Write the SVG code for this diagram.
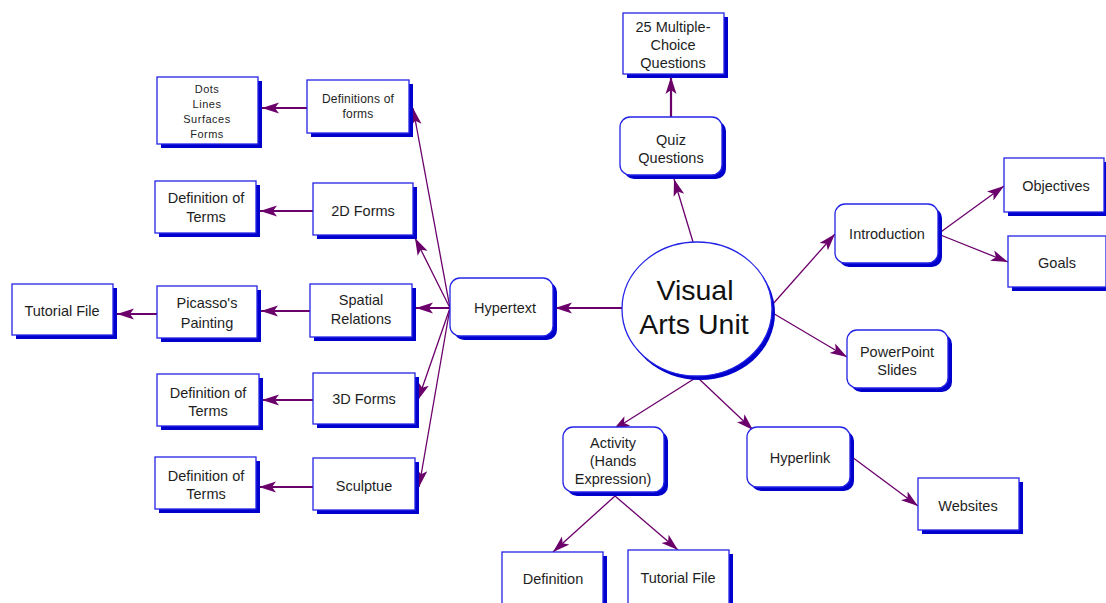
<svg xmlns="http://www.w3.org/2000/svg" width="1106" height="603" viewBox="0 0 1106 603">
<style>
.sh{fill:#0000cc;stroke:none}
.bx{fill:#ffffff;stroke:#2424e6;stroke-width:1.3}
.t{font-family:"Liberation Sans",Arial,sans-serif;font-size:14.5px;fill:#1e1e1e;text-anchor:middle}
.s{font-size:12px;letter-spacing:0.2px}
.xs{font-size:11px;letter-spacing:0.5px}
.big{font-size:28.5px;fill:#111}
.c{fill:none;stroke:#6b006b;stroke-width:1.3;marker-end:url(#ah)}
.k{stroke-width:2.2}
</style>
<defs>
<marker id="ah" markerUnits="userSpaceOnUse" markerWidth="18" markerHeight="12" viewBox="0 0 18 12" refX="17" refY="6" orient="auto">
<path d="M0,0.5 L17,6 L0,11.5 L4,6 Z" fill="#6b006b"/>
</marker>
</defs>
<rect width="1106" height="603" fill="#ffffff"/>
<g id="connectors">
<line class="c" x1="450" y1="308" x2="413" y2="108"/>
<line class="c" x1="450" y1="308" x2="415" y2="238"/>
<line class="c k" x1="450" y1="308" x2="416" y2="308"/>
<line class="c" x1="450" y1="308" x2="418" y2="400"/>
<line class="c" x1="450" y1="308" x2="419" y2="487"/>
<line class="c k" x1="622" y1="308" x2="555" y2="308"/>
<line class="c" x1="693" y1="242" x2="674" y2="179"/>
<line class="c k" x1="671" y1="117" x2="671" y2="77"/>
<line class="c" x1="772" y1="305" x2="835" y2="234"/>
<line class="c" x1="938" y1="234" x2="1004" y2="186"/>
<line class="c" x1="938" y1="234" x2="1008" y2="262"/>
<line class="c" x1="771" y1="312" x2="847" y2="357"/>
<line class="c" x1="697" y1="377" x2="613" y2="430"/>
<line class="c" x1="697" y1="377" x2="753" y2="430"/>
<line class="c" x1="852" y1="457" x2="918" y2="506"/>
<line class="c" x1="615" y1="496" x2="553" y2="552"/>
<line class="c" x1="615" y1="496" x2="678" y2="550"/>
<line class="c k" x1="307" y1="108" x2="262" y2="108"/>
<line class="c k" x1="313" y1="211" x2="260" y2="211"/>
<line class="c k" x1="310" y1="311" x2="261" y2="311"/>
<line class="c k" x1="157" y1="314" x2="117" y2="314"/>
<line class="c k" x1="313" y1="400" x2="262" y2="400"/>
<line class="c k" x1="313" y1="487" x2="259" y2="487"/>
</g>
<g id="center">
<ellipse class="sh" cx="700" cy="313" rx="75" ry="67"/>
<ellipse class="bx" cx="697" cy="309" rx="75" ry="67"/>
<text class="t big" x="695" y="300">Visual</text>
<text class="t big" x="694" y="334">Arts Unit</text>
</g>
<g id="hypertext">
<rect class="sh" x="454" y="282" width="103" height="58" rx="10"/>
<rect class="bx" x="450" y="278" width="103" height="58" rx="10"/>
<text class="t" x="505" y="313">Hypertext</text>
</g>
<g id="definitions-of-forms">
<rect class="sh" x="311" y="84" width="102" height="53"/>
<rect class="bx" x="307" y="80" width="102" height="53"/>
<text class="t s" x="358" y="103">Definitions of</text>
<text class="t s" x="358" y="118">forms</text>
</g>
<g id="dots-lines">
<rect class="sh" x="161" y="81" width="101" height="67"/>
<rect class="bx" x="157" y="77" width="101" height="67"/>
<text class="t xs" x="207" y="93">Dots</text>
<text class="t xs" x="207" y="108">Lines</text>
<text class="t xs" x="207" y="123">Surfaces</text>
<text class="t xs" x="207" y="138">Forms</text>
</g>
<g id="forms-2d">
<rect class="sh" x="317" y="187" width="100" height="52"/>
<rect class="bx" x="313" y="183" width="100" height="52"/>
<text class="t" x="363" y="216">2D Forms</text>
</g>
<g id="def-terms-1">
<rect class="sh" x="159" y="185" width="101" height="52"/>
<rect class="bx" x="155" y="181" width="101" height="52"/>
<text class="t" x="206" y="203">Definition of</text>
<text class="t" x="206" y="222">Terms</text>
</g>
<g id="spatial-relations">
<rect class="sh" x="314" y="288" width="102" height="53"/>
<rect class="bx" x="310" y="284" width="102" height="53"/>
<text class="t" x="361" y="305">Spatial</text>
<text class="t" x="361" y="324">Relations</text>
</g>
<g id="picasso">
<rect class="sh" x="161" y="290" width="100" height="52"/>
<rect class="bx" x="157" y="286" width="100" height="52"/>
<text class="t" x="207" y="308">Picasso's</text>
<text class="t" x="207" y="328">Painting</text>
</g>
<g id="tutorial-file-left">
<rect class="sh" x="16" y="288" width="101" height="51"/>
<rect class="bx" x="12" y="284" width="101" height="51"/>
<text class="t" x="62" y="316">Tutorial File</text>
</g>
<g id="forms-3d">
<rect class="sh" x="317" y="377" width="102" height="51"/>
<rect class="bx" x="313" y="373" width="102" height="51"/>
<text class="t" x="364" y="404">3D Forms</text>
</g>
<g id="def-terms-2">
<rect class="sh" x="161" y="378" width="102" height="52"/>
<rect class="bx" x="157" y="374" width="102" height="52"/>
<text class="t" x="208" y="398">Definition of</text>
<text class="t" x="208" y="416">Terms</text>
</g>
<g id="sculptue">
<rect class="sh" x="317" y="462" width="102" height="52"/>
<rect class="bx" x="313" y="458" width="102" height="52"/>
<text class="t" x="364" y="491">Sculptue</text>
</g>
<g id="def-terms-3">
<rect class="sh" x="159" y="461" width="101" height="52"/>
<rect class="bx" x="155" y="457" width="101" height="52"/>
<text class="t" x="206" y="481">Definition of</text>
<text class="t" x="206" y="499">Terms</text>
</g>
<g id="quiz-questions">
<rect class="sh" x="624" y="121" width="102" height="58" rx="10"/>
<rect class="bx" x="620" y="117" width="102" height="58" rx="10"/>
<text class="t" x="671" y="145">Quiz</text>
<text class="t" x="671" y="163">Questions</text>
</g>
<g id="multiple-choice">
<rect class="sh" x="627" y="17" width="101" height="61"/>
<rect class="bx" x="623" y="13" width="101" height="61"/>
<text class="t" x="673" y="32">25 Multiple-</text>
<text class="t" x="673" y="50">Choice</text>
<text class="t" x="673" y="68">Questions</text>
</g>
<g id="introduction">
<rect class="sh" x="839" y="208" width="103" height="59" rx="10"/>
<rect class="bx" x="835" y="204" width="103" height="59" rx="10"/>
<text class="t" x="887" y="239">Introduction</text>
</g>
<g id="objectives">
<rect class="sh" x="1008" y="162" width="100" height="54"/>
<rect class="bx" x="1004" y="158" width="100" height="54"/>
<text class="t" x="1056" y="191">Objectives</text>
</g>
<g id="goals">
<rect class="sh" x="1012" y="240" width="98" height="51"/>
<rect class="bx" x="1008" y="236" width="98" height="51"/>
<text class="t" x="1057" y="268">Goals</text>
</g>
<g id="powerpoint">
<rect class="sh" x="851" y="334" width="101" height="58" rx="10"/>
<rect class="bx" x="847" y="330" width="101" height="58" rx="10"/>
<text class="t" x="897" y="357">PowerPoint</text>
<text class="t" x="897" y="375">Slides</text>
</g>
<g id="hyperlink">
<rect class="sh" x="751" y="431" width="103" height="60" rx="10"/>
<rect class="bx" x="747" y="427" width="103" height="60" rx="10"/>
<text class="t" x="800" y="463">Hyperlink</text>
</g>
<g id="websites">
<rect class="sh" x="922" y="482" width="101" height="52"/>
<rect class="bx" x="918" y="478" width="101" height="52"/>
<text class="t" x="968" y="511">Websites</text>
</g>
<g id="activity">
<rect class="sh" x="567" y="431" width="101" height="65" rx="10"/>
<rect class="bx" x="563" y="427" width="101" height="65" rx="10"/>
<text class="t" x="613" y="448">Activity</text>
<text class="t" x="613" y="466">(Hands</text>
<text class="t" x="613" y="484">Expression)</text>
</g>
<g id="definition">
<rect class="sh" x="506" y="556" width="101" height="60"/>
<rect class="bx" x="502" y="552" width="101" height="60"/>
<text class="t" x="553" y="584">Definition</text>
</g>
<g id="tutorial-file-bottom">
<rect class="sh" x="632" y="554" width="101" height="60"/>
<rect class="bx" x="628" y="550" width="101" height="60"/>
<text class="t" x="678" y="583">Tutorial File</text>
</g>
</svg>
